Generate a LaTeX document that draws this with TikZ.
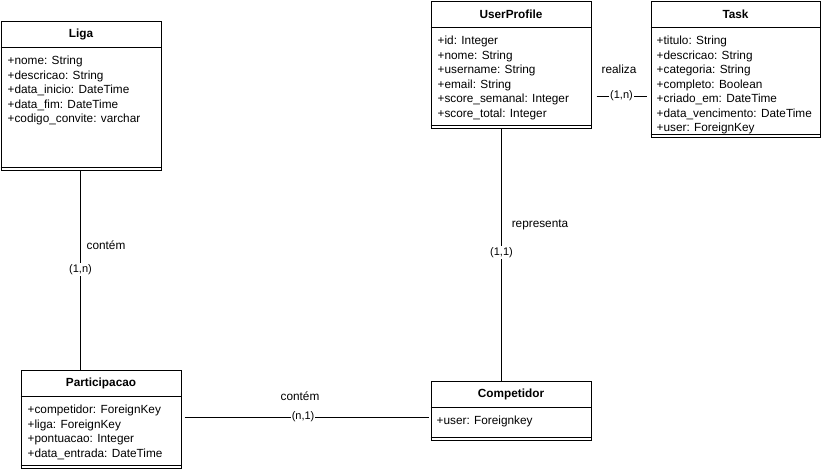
\documentclass[tikz,border=0pt]{standalone}
\usepackage{fontspec}
\setmainfont{Liberation Sans}
\begin{document}
\begin{tikzpicture}[x=1pt,y=-1pt,
  cls/.style={draw, line width=1pt, inner sep=0pt, anchor=north west, fill=white},
  hdr/.style={font=\fontsize{11.8}{14}\selectfont\bfseries, inner sep=0pt, anchor=center},
  attrs/.style={anchor=north west, align=left, inner sep=0pt, font=\fontsize{11.8}{14.5}\selectfont},
  sepline/.style={line width=1pt},
  conn/.style={line width=1pt},
  lbl/.style={font=\fontsize{11.8}{14}\selectfont, inner sep=0pt},
  card/.style={fill=white, inner sep=1pt, font=\fontsize{11}{12}\selectfont}
]
\useasboundingbox (0,0) rectangle (821,469);

% ---------- Liga ----------
\node[cls, minimum width=160pt, minimum height=149pt] (liga) at (0.5,21) {};
\draw[sepline] ([yshift=-26pt]liga.north west) -- ([yshift=-26pt]liga.north east);
\draw[sepline] ([yshift=4pt]liga.south west) -- ([yshift=4pt]liga.south east);
\node[hdr] (ligah) at ([yshift=-13pt]liga.north) {Liga};
\node[attrs] (ligaa) at ([xshift=7pt,yshift=-35pt]liga.north west)
  {+nome: String\\+descricao: String\\+data\_inicio: DateTime\\+data\_fim: DateTime\\+codigo\_convite: varchar};

% ---------- UserProfile ----------
\node[cls, minimum width=160pt, minimum height=127pt] (up) at (430.5,1) {};
\draw[sepline] ([yshift=-26pt]up.north west) -- ([yshift=-26pt]up.north east);
\draw[sepline] ([yshift=4pt]up.south west) -- ([yshift=4pt]up.south east);
\node[hdr] (uph) at ([yshift=-13pt]up.north) {UserProfile};
\node[attrs] (upa) at ([xshift=7pt,yshift=-35pt]up.north west)
  {+id: Integer\\+nome: String\\+username: String\\+email: String\\+score\_semanal: Integer\\+score\_total: Integer};

% ---------- Task ----------
\node[cls, minimum width=169pt, minimum height=136pt] (task) at (650.5,1) {};
\draw[sepline] ([yshift=-26pt]task.north west) -- ([yshift=-26pt]task.north east);
\draw[sepline] ([yshift=4pt]task.south west) -- ([yshift=4pt]task.south east);
\node[hdr] (taskh) at ([yshift=-13pt]task.north) {Task};
\node[attrs] (taska) at ([xshift=6pt,yshift=-35pt]task.north west)
  {+titulo: String\\+descricao: String\\+categoria: String\\+completo: Boolean\\+criado\_em: DateTime\\+data\_vencimento: DateTime\\+user: ForeignKey};

% ---------- Participacao ----------
\node[cls, minimum width=160pt, minimum height=98pt] (part) at (20.5,370) {};
\draw[sepline] ([yshift=-26pt]part.north west) -- ([yshift=-26pt]part.north east);
\draw[sepline] ([yshift=4pt]part.south west) -- ([yshift=4pt]part.south east);
\node[hdr] (parth) at ([yshift=-13pt]part.north) {Participacao};
\node[attrs] (parta) at ([xshift=7pt,yshift=-35pt]part.north west)
  {+competidor: ForeignKey\\+liga: ForeignKey\\+pontuacao: Integer\\+data\_entrada: DateTime};

% ---------- Competidor ----------
\node[cls, minimum width=160pt, minimum height=59pt] (comp) at (430.5,381) {};
\draw[sepline] ([yshift=-26pt]comp.north west) -- ([yshift=-26pt]comp.north east);
\draw[sepline] ([yshift=4pt]comp.south west) -- ([yshift=4pt]comp.south east);
\node[hdr] (comph) at ([yshift=-13pt]comp.north) {Competidor};
\node[attrs] (compa) at ([xshift=6pt,yshift=-35pt]comp.north west)
  {+user: Foreignkey};

% ---------- Connectors ----------
% Liga -- Participacao
\draw[conn] ([xshift=-0.5pt]liga.south) -- node[card, pos=0.495] (c1) {(1,n)} ([xshift=-0.5pt]liga.south |- part.north);
\node[lbl] (l1) at (106,245) {contém};

% UserProfile -- Competidor
\draw[conn] ([xshift=-9.5pt]up.south) -- node[card, pos=0.49] (c2) {(1,1)} ([xshift=-9.5pt]comp.north);
\node[lbl] (l2) at (540,225) {representa};

% UserProfile -- Task
\draw[conn] ([shift={(5pt,-95pt)}]up.north east) -- node[card, pos=0.5] (c3) {(1,n)} ([shift={(-4pt,-95pt)}]task.north west);
\node[lbl] (l3) at (619,69) {realiza};

% Participacao -- Competidor
\draw[conn] ([shift={(3pt,-47pt)}]part.north east) -- node[card, pos=0.486] (c4) {(n,1)} ([shift={(-2pt,-36pt)}]comp.north west);
\node[lbl] (l4) at (300,396) {contém};

\end{tikzpicture}
\end{document}
